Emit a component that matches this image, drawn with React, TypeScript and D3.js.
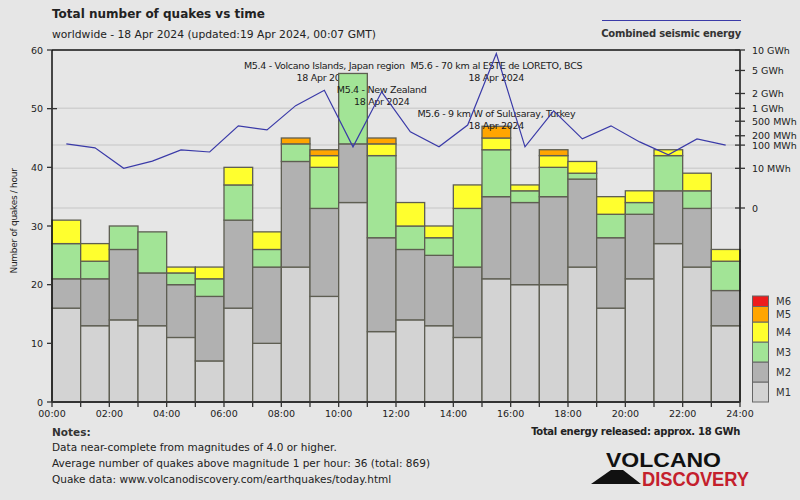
import React from 'react';
import * as d3 from 'd3';

// quakes per hour by magnitude class, 18 Apr 2024 (00:00 .. 23:00)
const hours = d3.range(24);
const m1 = [16, 13, 14, 13, 11, 7, 16, 10, 23, 18, 34, 12, 14, 13, 11, 21, 20, 20, 23, 16, 21, 27, 23, 13];
const m2 = [5, 8, 12, 9, 9, 11, 15, 13, 18, 15, 10, 16, 12, 12, 12, 14, 14, 15, 15, 12, 11, 9, 10, 6];
const m3 = [6, 3, 4, 7, 2, 3, 6, 3, 3, 7, 12, 14, 4, 3, 10, 8, 2, 5, 1, 4, 2, 6, 3, 5];
const m4 = [4, 3, 0, 0, 1, 2, 3, 3, 0, 2, 0, 2, 4, 2, 4, 2, 1, 2, 2, 3, 2, 1, 3, 2];
const m5 = [0, 0, 0, 0, 0, 0, 0, 0, 1, 1, 0, 1, 0, 0, 0, 2, 0, 1, 0, 0, 0, 0, 0, 0];
const m6 = [0, 0, 0, 0, 0, 0, 0, 0, 0, 0, 0, 0, 0, 0, 0, 0, 0, 0, 0, 0, 0, 0, 0, 0];

// combined seismic energy per hour, MWh
const energyMWh = [110, 80, 10, 23, 67, 56, 380, 295, 1140, 2300, 87, 2150, 260, 87, 400, 8900, 87, 880, 160, 380, 128, 43, 160, 100];

const magKeys = ['M1', 'M2', 'M3', 'M4', 'M5', 'M6'];
const magColors = ['#d3d3d3', '#b1b1b1', '#a2e496', '#ffff2e', '#ffa500', '#ee1c1c'];
const quakeTicks = [0, 10, 20, 30, 40, 50, 60];
const timeLabels = ['00:00', '02:00', '04:00', '06:00', '08:00', '10:00', '12:00', '14:00', '16:00', '18:00', '20:00', '22:00', '24:00'];
const energyTickValues = [10000, 5000, 2000, 1000, 500, 200, 100, 10, 0];
const energyTickLabels = ['10 GWh', '5 GWh', '2 GWh', '1 GWh', '500 MWh', '200 MWh', '100 MWh', '10 MWh', '0'];
const energyGrid = [1000, 100, 10, 0];

const events = [
  { hour: 9, row: 0, name: 'M5.4 - Volcano Islands, Japan region', date: '18 Apr 2024' },
  { hour: 11, row: 1, name: 'M5.4 - New Zealand', date: '18 Apr 2024' },
  { hour: 15, row: 0, name: 'M5.6 - 70 km al ESTE de  LORETO, BCS', date: '18 Apr 2024' },
  { hour: 15, row: 2, name: 'M5.6 - 9 km W of Sulusaray, Turkey', date: '18 Apr 2024' },
];

const notes = [
  'Data near-complete from magnitudes of 4.0 or higher.',
  'Average number of quakes above magnitude 1 per hour: 36 (total: 869)',
  'Quake data: www.volcanodiscovery.com/earthquakes/today.html',
];

const FONT = '"DejaVu Sans", Verdana, sans-serif';

const App = () => {
  const W = 800;
  const H = 500;
  const left = 52;
  const right = 740;
  const top = 50;
  const bottom = 402;

  const x = d3.scaleLinear().domain([0, 24]).range([left, right]);
  const y = d3.scaleLinear().domain([0, 60]).range([bottom, top]);
  const ey = d3.scalePow().exponent(0.2).domain([0, 10000]).range([208, top]);

  const table = hours.map(h => ({
    hour: h, M1: m1[h], M2: m2[h], M3: m3[h], M4: m4[h], M5: m5[h], M6: m6[h],
  }));
  const series = d3.stack().keys(magKeys)(table as any);

  const line = d3.line<number>()
    .x((d, i) => x(i + 0.5))
    .y(d => ey(d));

  // legend boxes, M1 at bottom
  const legendH = [20, 20, 20, 20, 15.5, 10.5];
  let acc = bottom;
  const legend = magKeys.map((k, i) => {
    const y1 = acc;
    acc -= legendH[i];
    return { key: k, color: magColors[i], y0: acc, y1 };
  });

  return (
    <svg width={W} height={H} style={{ position: 'absolute', left: 0, top: 0, fontFamily: FONT }}>
      <rect width={W} height={H} fill="#e6e6e6" />

      {/* gridlines */}
      {energyGrid.map(v => (
        <line key={v} x1={left} x2={right} y1={ey(v)} y2={ey(v)} stroke="#d0d0d0" strokeWidth={1.5} />
      ))}

      {/* bars per hour, with annotations drawn after their hour */}
      {hours.map(h => (
        <g key={h}>
          {series.map((s, si) => {
            const d = s[h];
            if (d[1] - d[0] <= 0) return null;
            return (
              <rect key={si} x={x(h)} width={x(h + 1) - x(h)} y={y(d[1])} height={y(d[0]) - y(d[1])}
                fill={magColors[si]} stroke="#5e5e52" strokeWidth={1.3} />
            );
          })}
          {events.filter(e => e.hour === h).map((e, i) => (
            <g key={i} fontSize={9.5} letterSpacing={-0.3} fill="#1a1a1a" textAnchor="middle">
              <text x={x(h + 0.5)} y={69 + e.row * 24}>{e.name}</text>
              <text x={x(h + 0.5)} y={81 + e.row * 24}>{e.date}</text>
            </g>
          ))}
        </g>
      ))}

      {/* energy line */}
      <path d={line(energyMWh) || ''} fill="none" stroke="#3a3aa8" strokeWidth={1.2} />

      {/* frame / axes */}
      <line x1={left} x2={right} y1={top} y2={top} stroke="#111" strokeWidth={1.5} />
      <line x1={left} x2={left} y1={top} y2={bottom} stroke="#111" strokeWidth={1.5} />
      <line x1={right} x2={right} y1={top} y2={bottom} stroke="#111" strokeWidth={1.5} />
      <line x1={left} x2={right} y1={bottom} y2={bottom} stroke="#333" strokeWidth={2} />

      {/* left axis */}
      {quakeTicks.map(t => (
        <g key={t}>
          <line x1={left - 5} x2={left + (t === 50 ? 5 : 0)} y1={y(t)} y2={y(t)} stroke="#333" strokeWidth={1.3} />
          <text x={left - 9} y={y(t) + 3.5} fontSize={9.5} textAnchor="end" fill="#222">{t}</text>
        </g>
      ))}
      <text transform="translate(17,221) rotate(-90)" fontSize={9} letterSpacing={-0.3} textAnchor="middle" fill="#222">Number of quakes / hour</text>

      {/* bottom axis */}
      {d3.range(25).map(h => (
        <line key={h} x1={x(h)} x2={x(h)} y1={bottom} y2={bottom + 5} stroke="#333" strokeWidth={1.3} />
      ))}
      {timeLabels.map((l, i) => (
        <text key={l} x={x(i * 2)} y={417} fontSize={9.5} textAnchor="middle" fill="#222">{l}</text>
      ))}

      {/* right axis */}
      {energyTickValues.map((v, i) => (
        <g key={v}>
          <line x1={right - 5} x2={right + 5} y1={ey(v)} y2={ey(v)} stroke="#333" strokeWidth={1.3} />
          <text x={752} y={ey(v) + 3.5} fontSize={9.5} fill="#222">{energyTickLabels[i]}</text>
        </g>
      ))}

      {/* magnitude legend */}
      {legend.map(l => (
        <g key={l.key}>
          <rect x={752.5} y={l.y0} width={16} height={l.y1 - l.y0} fill={l.color} stroke="#666" strokeWidth={1} />
          <text x={776} y={(l.y0 + l.y1) / 2 + 3.5} fontSize={10} fill="#333">{l.key}</text>
        </g>
      ))}

      {/* titles */}
      <text x={52} y={18} fontSize={12} fontWeight="bold" fill="#222">Total number of quakes vs time</text>
      <text x={52} y={38} fontSize={10.75} fill="#222">worldwide - 18 Apr 2024 (updated:19 Apr 2024, 00:07 GMT)</text>
      <line x1={602} x2={741} y1={20.5} y2={20.5} stroke="#3a3aa8" strokeWidth={1.2} />
      <text x={741} y={37} fontSize={10} letterSpacing={-0.2} fontWeight="bold" textAnchor="end" fill="#333">Combined seismic energy</text>

      {/* notes */}
      <text x={52} y={436} fontSize={10.5} fontWeight="bold" fill="#333">Notes:</text>
      {notes.map((n, i) => (
        <text key={i} x={52} y={451 + i * 16} fontSize={10.5} fill="#222">{n}</text>
      ))}
      <text x={740} y={435} fontSize={10} letterSpacing={-0.3} fontWeight="bold" textAnchor="end" fill="#222">Total energy released: approx. 18 GWh</text>

      {/* logo */}
      <polygon points="591,484 611,470 623,470 641,484" fill="#111" />
      <text x={606} y={467} fontSize={21} fontWeight="bold" fontFamily='"Liberation Sans", Arial, sans-serif'
        textLength={115} lengthAdjust="spacingAndGlyphs" fill="#111">VOLCANO</text>
      <text x={642} y={486} fontSize={20} fontWeight="bold" fontFamily='"Liberation Sans", Arial, sans-serif'
        textLength={107} lengthAdjust="spacingAndGlyphs" fill="#c4202c">DISCOVERY</text>
    </svg>
  );
};

export default App;
